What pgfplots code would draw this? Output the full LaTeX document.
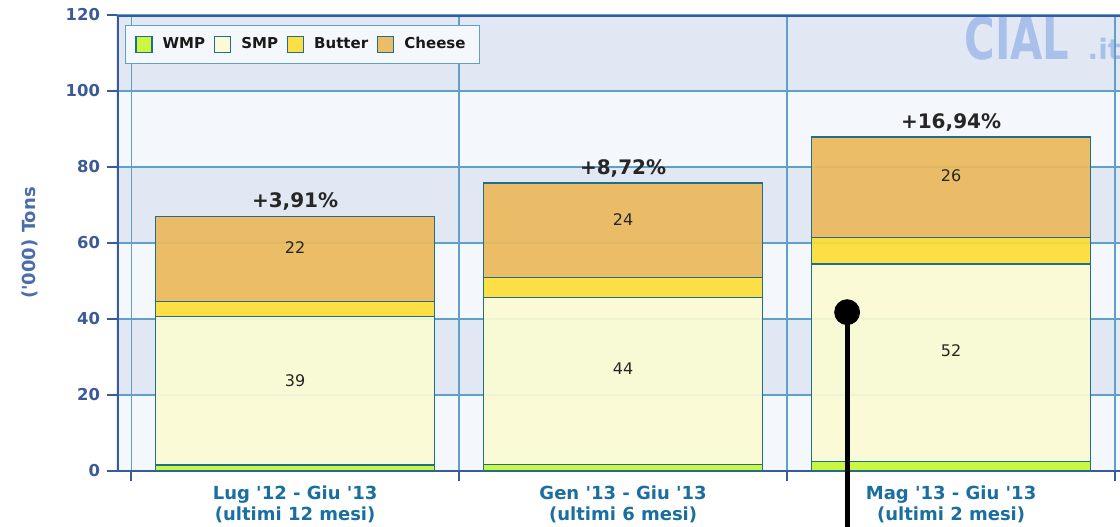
\documentclass[border=0pt]{standalone}
\usepackage{fontspec}
\newfontfamily\vf{DejaVu Sans}
\usepackage{pgfplots}
\pgfplotsset{compat=1.18}
\definecolor{bandD}{HTML}{E1E8F4}
\definecolor{bandL}{HTML}{F4F7FC}
\definecolor{gridc}{HTML}{5FA0C6}
\definecolor{axc}{HTML}{3A5A9E}
\definecolor{tickc}{HTML}{3D5A98}
\definecolor{catc}{HTML}{1A6EA0}
\definecolor{ylc}{HTML}{4A6EAA}
\definecolor{edge}{HTML}{1F6E8E}
\definecolor{wmp}{HTML}{C9F731}
\definecolor{smp}{HTML}{FBFCD3}
\definecolor{butter}{HTML}{FDDD35}
\definecolor{cheese}{HTML}{EBB95B}
\definecolor{wm}{HTML}{A9C1EA}
\begin{document}
\vf
\begin{tikzpicture}
\pgfplotsset{common/.style={at={(0,0)}, anchor=south west, scale only axis,
  width=501.5pt, height=228pt, xmin=-0.543, xmax=2.515, ymin=0, ymax=120}}
% background bands and watermark
\begin{axis}[common, hide axis, clip=false]
\fill[bandL] (axis cs:-0.543,0) rectangle (axis cs:2.515,20);
\fill[bandD] (axis cs:-0.543,20) rectangle (axis cs:2.515,40);
\fill[bandL] (axis cs:-0.543,40) rectangle (axis cs:2.515,60);
\fill[bandD] (axis cs:-0.543,60) rectangle (axis cs:2.515,80);
\fill[bandL] (axis cs:-0.543,80) rectangle (axis cs:2.515,100);
\fill[bandD] (axis cs:-0.543,100) rectangle (axis cs:2.515,120);
\node[text=wm, font=\bfseries\fontsize{29}{29}\selectfont, xscale=0.72, anchor=base, inner sep=0pt] at (axis cs:2.201,108.2) {CIAL};
\node[text=wm, font=\bfseries\fontsize{14}{14}\selectfont, anchor=base west, inner sep=0pt] at (axis cs:2.415,108.2) {.it};
\end{axis}
\begin{axis}[common, ybar stacked, bar width=0.85,
  axis line style={draw=none},
  xtick pos=bottom, ytick pos=left,
  ytick={0,20,...,120}, ymajorgrids,
  xtick={-0.5,0.5,1.5,2.5}, xticklabels={,,,}, xmajorgrids,
  extra x ticks={0,1,2},
  extra x tick labels={{Lug '12 - Giu '13\\(ultimi 12 mesi)},{Gen '13 - Giu '13\\(ultimi 6 mesi)},{Mag '13 - Giu '13\\(ultimi 2 mesi)}},
  extra x tick style={grid=none, major tick length=0pt,
    tick label style={font=\bfseries\fontsize{9}{10.5}\selectfont, text=catc, align=center, yshift=-4pt}},
  grid style={gridc, line width=0.6pt},
  tick align=outside, major tick length=5pt,
  tick style={axc, line width=0.7pt},
  yticklabel style={font=\bfseries\fontsize{8.2}{8.2}\selectfont, text=tickc},
  /pgf/number format/assume math mode=true,
  ylabel={('000) Tons},
  every axis y label/.style={at={(axis description cs:-0.0867,0.5)}, rotate=90, anchor=center,
    font=\bfseries\fontsize{9}{9}\selectfont, text=ylc},
  legend columns=4,
  legend style={at={(0.008,0.978)}, anchor=north west, draw=gridc, fill=bandL,
    font=\bfseries\fontsize{7.5}{9}\selectfont, text=black!90,
    /tikz/every even column/.append style={column sep=2.5pt},
    /tikz/every odd column/.append style={column sep=3pt},
    inner xsep=5pt, inner ysep=4pt},
  legend image code/.code={\draw[#1, line width=0.6pt] (0pt,-4pt) rectangle (8pt,4pt);},
]
\addplot[fill=wmp, draw=edge, line width=0.7pt, fill opacity=0.92] coordinates {(0,1.6) (1,1.7) (2,2.5)};
\addplot[fill=smp, draw=edge, line width=0.7pt, fill opacity=0.92] coordinates {(0,39.0) (1,43.9) (2,52.0)};
\addplot[fill=butter, draw=edge, line width=0.7pt, fill opacity=0.92] coordinates {(0,4.0) (1,5.4) (2,6.9)};
\addplot[fill=cheese, draw=edge, line width=0.7pt, fill opacity=0.92] coordinates {(0,22.4) (1,24.8) (2,26.5)};
\legend{WMP,SMP,Butter,Cheese}
\draw[axc, line width=2.5pt] (rel axis cs:0,0) -- (rel axis cs:0,1);
\draw[axc, line width=1.5pt] (rel axis cs:0,1) -- (rel axis cs:1,1);
\draw[axc, line width=1.2pt] (rel axis cs:0,0) -- (rel axis cs:1,0);
\end{axis}
\begin{axis}[common, hide axis, clip=false]
\addplot[draw=none, mark=none, nodes near coords, point meta=explicit symbolic,
  nodes near coords style={anchor=center, font=\fontsize{8}{8}\selectfont, text=black!85}]
  coordinates {(0,23.9)[39] (1,26.8)[44] (2,31.6)[52] (0,58.9)[22] (1,66.3)[24] (2,77.6)[26]};
\addplot[draw=none, mark=none, nodes near coords, point meta=explicit symbolic,
  nodes near coords style={anchor=center, font=\bfseries\fontsize{10}{10}\selectfont, text=black!85}]
  coordinates {(0,71.0)[+3,91\%] (1,79.7)[+8,72\%] (2,91.6)[+16,94\%]};
\addplot[black, line width=2.5pt, mark=none] coordinates {(1.683,41.8) (1.683,-20)};
\addplot[only marks, mark=*, mark size=6.25pt, black] coordinates {(1.683,41.8)};
\end{axis}
\pgfresetboundingbox
\useasboundingbox (-58.5pt,-27.5pt) rectangle (501.5pt,235.5pt);
\end{tikzpicture}
\end{document}
